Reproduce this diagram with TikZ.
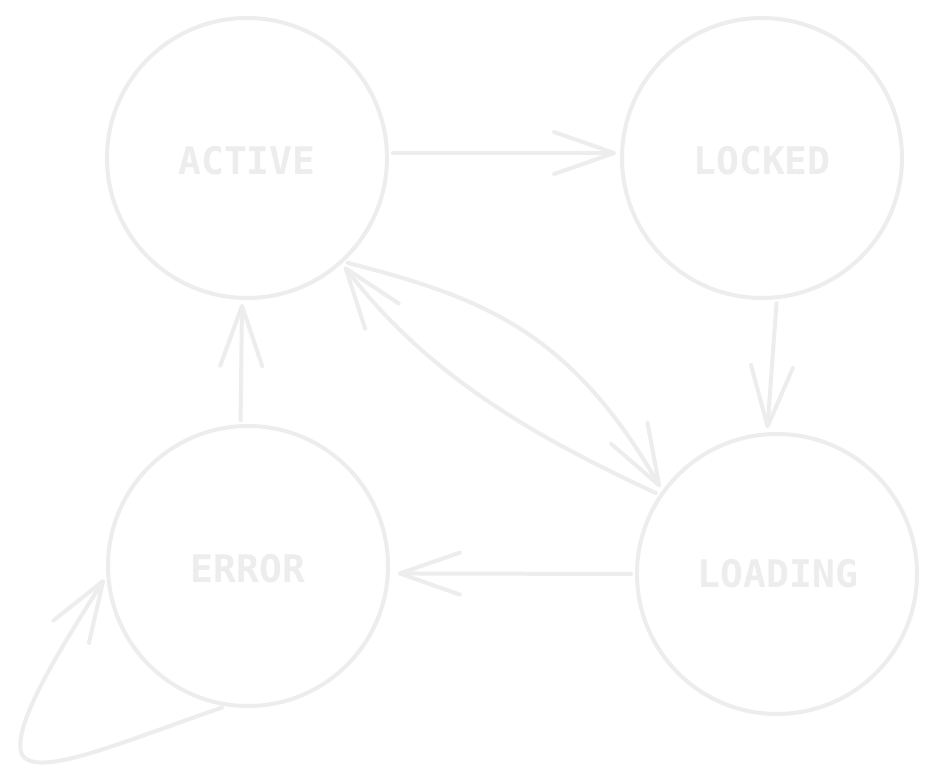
\documentclass[tikz,border=0pt]{standalone}
\usepackage{fontspec}
\setmainfont{DejaVu Sans Mono}
\usetikzlibrary{arrows.meta}
\definecolor{sk}{HTML}{EDEDED}
\begin{document}
\begin{tikzpicture}[x=1pt,y=-1pt,
  state/.style={circle,draw=sk,line width=4pt,minimum size=280pt,inner sep=0pt},
  lbl/.style={text=sk,font=\fontsize{38}{40}\selectfont\bfseries},
  conn/.style={draw=sk,line width=4pt,line cap=round,
    -{Straight Barb[length=60pt,width=42pt,line width=4pt,round]},
    shorten <=4pt,shorten >=4pt}]
\useasboundingbox (0,0) rectangle (937,783);
\fill[white] (0,0) rectangle (937,783);
\node[state] (active) at (247,158) {};
\node[state] (locked) at (762,158) {};
\node[state] (error) at (248,566) {};
\node[state] (loading) at (777,574) {};
\node[lbl] (tactive) at (247,161) {ACTIVE};
\node[lbl] (tlocked) at (762,161) {LOCKED};
\node[lbl] (terror) at (248,569) {ERROR};
\node[lbl] (tloading) at (778,574) {LOADING};
\coordinate (loopc) at (21,752);
\draw[conn] (active.2) -- (locked.178);
\draw[conn] (locked.-84) -- (loading.94);
\draw[conn] (error.93) -- (active.-92);
\draw[conn,shorten >=8pt] (loading.180) -- (error.-3);
\draw[conn] (active.-47) .. controls +(135,35) and +(-93,-162) .. (loading.144);
\draw[conn] (loading.146) .. controls +(-123,-57) and +(85,112) .. (active.-48);
\draw[conn] (error.-99) .. controls +(-105,36) and +(10,30) .. (loopc)
  .. controls +(-7,-30) and +(-46,73) .. (error.184);
\end{tikzpicture}
\end{document}
